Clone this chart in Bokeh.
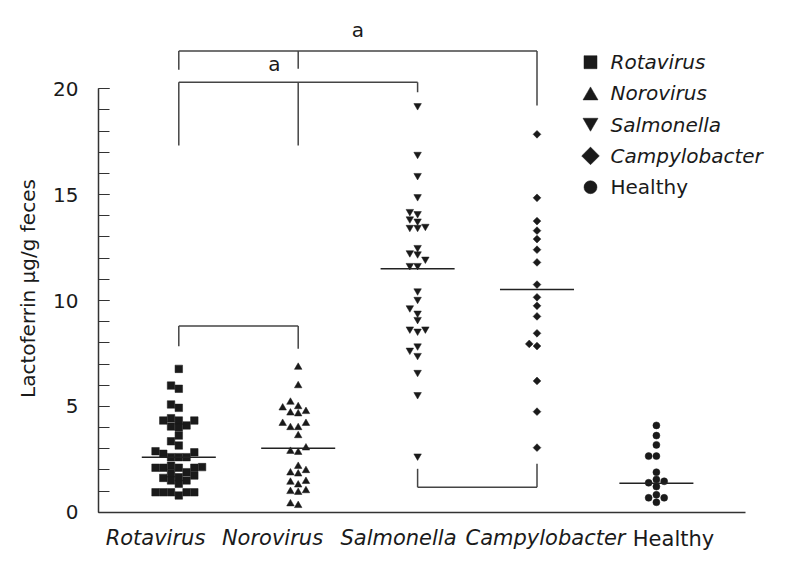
import math
from bokeh.plotting import figure
from bokeh.models import Range1d, FixedTicker, ColumnDataSource
from bokeh.embed import file_html
from bokeh.resources import INLINE
from bokeh.core.properties import value

# ---------------- data ----------------
groups = ["Rotavirus", "Norovirus", "Salmonella", "Campylobacter", "Healthy"]

rotavirus = [6.77, 5.98, 5.83, 4.93, 5.09, 4.33, 4.44, 4.33, 4.33, 4.10, 4.00, 4.05,
             3.62, 3.15, 3.35, 2.88, 2.76, 2.60, 2.60, 2.60, 2.83, 2.20, 2.10, 2.10,
             1.89, 2.10, 2.10, 2.13, 1.84, 1.73, 1.62, 1.50, 1.34, 1.50, 1.65,
             0.94, 0.94, 0.79, 0.94, 0.94, 0.94]
norovirus = [6.85, 5.98, 5.20, 4.93, 4.69, 4.65, 4.76, 4.99, 4.20, 4.00, 4.00, 4.20,
             3.62, 3.04, 2.83, 2.88, 2.17, 1.86, 1.81, 1.97, 1.46, 1.29, 1.42,
             0.98, 0.94, 1.02, 0.32, 0.40]
salmonella = [19.2, 16.9, 15.9, 14.9, 14.2, 14.1, 13.75, 13.85, 13.45, 13.45, 13.5,
              12.5, 12.2, 12.25, 11.95, 11.65, 11.65, 10.45, 10.05, 9.65, 9.4, 9.1,
              8.65, 8.55, 8.65, 7.85, 7.65, 7.4, 6.6, 5.55, 2.65]
campylobacter = [17.85, 14.85, 13.75, 13.3, 12.9, 12.4, 11.8, 10.75, 10.15, 9.75,
                 9.25, 8.45, 7.95, 7.85, 6.2, 4.75, 3.05]
healthy = [4.10, 3.62, 3.18, 2.65, 2.65, 1.89, 1.55, 1.39, 1.46, 1.21,
           0.68, 0.68, 0.82, 0.47]

medians = [2.6, 3.02, 11.5, 10.52, 1.37]

y_ticks = [0, 5, 10, 15, 20]
y_label = "Lactoferrin μg/g feces"

# significance brackets: legs (groups), bar height, leg end heights
outer_legs = ["Rotavirus", "Norovirus", "Campylobacter"]
outer_bar = 21.78
outer_ends = [20.9, 20.95, 19.21]
inner_legs = ["Rotavirus", "Norovirus", "Salmonella"]
inner_bar = 20.31
inner_ends = [17.32, 17.32, 19.84]
rn_legs = ["Rotavirus", "Norovirus"]
rn_bar = 8.79
rn_ends = [7.84, 7.72]
sc_legs = ["Salmonella", "Campylobacter"]
sc_bar = 1.18
sc_ends = [2.05, 2.29]
sig_labels = ["a", "a"]

# ---------------- helpers ----------------
gx = {g: i + 1 for i, g in enumerate(groups)}
STEP = 0.065


def swarm(vals, thr=0.3):
    vals = list(vals)
    order = sorted(range(len(vals)), key=lambda i: vals[i])
    slots = [0] * len(vals)
    placed = []
    cand = [0, -1, 1, -2, 2, -3, 3, -4, 4, -5, 5]
    for i in order:
        v = vals[i]
        for k in cand:
            if all(not (s == k and abs(v - pv) < thr) for s, pv in placed):
                slots[i] = k
                placed.append((k, v))
                break
    return slots


FONT = "DejaVu Sans"
INK = "#1a1a1a"
W, H = 785, 572
PX_X = 119.4          # pixels per group unit
PX_Y = 21.17          # pixels per lactoferrin unit
X0_PX, Y0_PX = 178.3, 511.7   # pixel of (group 1, value 0)


def dx(px):
    return 1 + (px - X0_PX) / PX_X


def dy(py):
    return (Y0_PX - py) / PX_Y


p = figure(width=W, height=H, output_backend="svg", toolbar_location=None,
           x_range=Range1d(dx(0), dx(W)), y_range=Range1d(dy(H), dy(0)),
           min_border_left=0, min_border_right=0, min_border_top=0, min_border_bottom=0)
p.outline_line_color = None
p.grid.visible = False
p.background_fill_color = "white"
p.border_fill_color = "white"

X_AXIS_LEFT = dx(98)
X_AXIS_RIGHT = dx(745)

# ---------------- points ----------------
series = [
    (rotavirus, "square", 7.5, 0.0),
    (norovirus, "triangle", 7.5, 0.0),
    (salmonella, "inverted_triangle", 7.5, 0.0),
    (campylobacter, "square", 5.5, math.pi / 4),
    (healthy, "circle", 7, 0.0),
]
for g, (vals, marker, size, ang) in zip(groups, series):
    slots = swarm(vals)
    xs = [gx[g] + s * STEP for s in slots]
    src = ColumnDataSource(dict(x=xs, y=vals))
    p.scatter("x", "y", source=src, marker=marker, size=size, angle=ang,
              fill_color=INK, line_color=INK, line_width=0.5)

# medians
p.segment(x0=[gx[g] - 0.31 for g in groups], x1=[gx[g] + 0.31 for g in groups],
          y0=medians, y1=medians, line_color="#222222", line_width=1.5)

# ---------------- brackets ----------------
BR = "#444444"


def bracket(legs, bar, ends):
    xs = [gx[g] for g in legs]
    p.line([min(xs), max(xs)], [bar, bar], line_color=BR, line_width=1.5)
    p.segment(x0=xs, x1=xs, y0=[bar] * len(xs), y1=ends, line_color=BR, line_width=1.5)
    return xs


ox = bracket(outer_legs, outer_bar, outer_ends)
bracket(inner_legs, inner_bar, inner_ends)
bracket(rn_legs, rn_bar, rn_ends)
bracket(sc_legs, sc_bar, sc_ends)

p.text(x=[(min(ox) + max(ox)) / 2, gx["Norovirus"] - 0.2],
       y=[outer_bar + 1.0, (outer_bar + inner_bar) / 2 + 0.15], text=sig_labels,
       text_font=value(FONT), text_font_size="20px", text_align="center",
       text_baseline="middle", text_color=INK)

# ---------------- axes ----------------
yax = p.yaxis[0]
yax.fixed_location = X_AXIS_LEFT
yax.bounds = (0, 20)
yax.ticker = FixedTicker(ticks=y_ticks, minor_ticks=list(range(0, 21)))
yax.major_tick_in = 11
yax.major_tick_out = 0
yax.minor_tick_in = 11
yax.minor_tick_out = 0
yax.major_label_standoff = 20
yax.major_label_text_font = FONT
yax.major_label_text_font_size = "20px"
yax.major_label_text_color = INK
yax.axis_line_color = "#333333"
yax.axis_line_width = 1.5
yax.major_tick_line_color = "#333333"
yax.minor_tick_line_color = "#333333"
yax.major_tick_line_width = 1.2
yax.minor_tick_line_width = 1.2

label_pos = [dx(155), dx(272), dx(398), dx(545), dx(673)]
xax = p.xaxis[0]
xax.fixed_location = 0
xax.bounds = (X_AXIS_LEFT, X_AXIS_RIGHT)
xax.ticker = FixedTicker(ticks=label_pos[:4], minor_ticks=[])
xax.major_label_overrides = {pos: g for pos, g in zip(label_pos[:4], groups[:4])}
xax.major_tick_in = 0
xax.major_tick_out = 0
xax.minor_tick_in = 0
xax.minor_tick_out = 0
xax.major_label_standoff = 14
xax.major_label_text_font = FONT
xax.major_label_text_font_size = "21px"
xax.major_label_text_font_style = "italic"
xax.major_label_text_color = INK
xax.axis_line_color = "#333333"
xax.axis_line_width = 1.5

# "Healthy" category label (upright, as in the original)
p.text(x=[label_pos[4]], y=[dy(512 + 14)], text=[groups[4]], text_font=value(FONT),
       text_font_size="21px", text_align="center", text_baseline="top", text_color=INK)

# y axis title
p.text(x=[dx(27)], y=[dy(288)], text=[y_label], angle=math.pi / 2, text_font=value(FONT),
       text_font_size="20px", text_align="center", text_baseline="middle", text_color=INK)

# ---------------- legend (drawn by hand to match symbol sizes) ----------------
LEG_MX, LEG_TX, LEG_Y0, LEG_STEP = dx(590), dx(610), dy(61.7), 31.25 / PX_Y
leg_markers = ["square", "triangle", "inverted_triangle", "square", "circle"]
leg_sizes = [13, 15, 15, 12.5, 13]
leg_angles = [0, 0, 0, math.pi / 4, 0]
leg_y = [LEG_Y0 - i * LEG_STEP for i in range(len(groups))]
leg_y_adj = [y - (0.1 if m == "triangle" else -0.1 if m == "inverted_triangle" else 0)
             for y, m in zip(leg_y, leg_markers)]
p.scatter(x=[LEG_MX] * len(groups), y=leg_y_adj, marker=leg_markers, size=leg_sizes,
          angle=leg_angles, fill_color=INK, line_color=INK, line_width=0.5)
p.text(x=[LEG_TX] * 4, y=leg_y[:4], text=groups[:4], text_font=value(FONT),
       text_font_size="20px", text_font_style="italic", text_align="left",
       text_baseline="middle", text_color=INK)
p.text(x=[LEG_TX], y=leg_y[4:], text=groups[4:], text_font=value(FONT),
       text_font_size="20px", text_align="left", text_baseline="middle", text_color=INK)

open("out.html", "w").write(file_html(p, INLINE))
